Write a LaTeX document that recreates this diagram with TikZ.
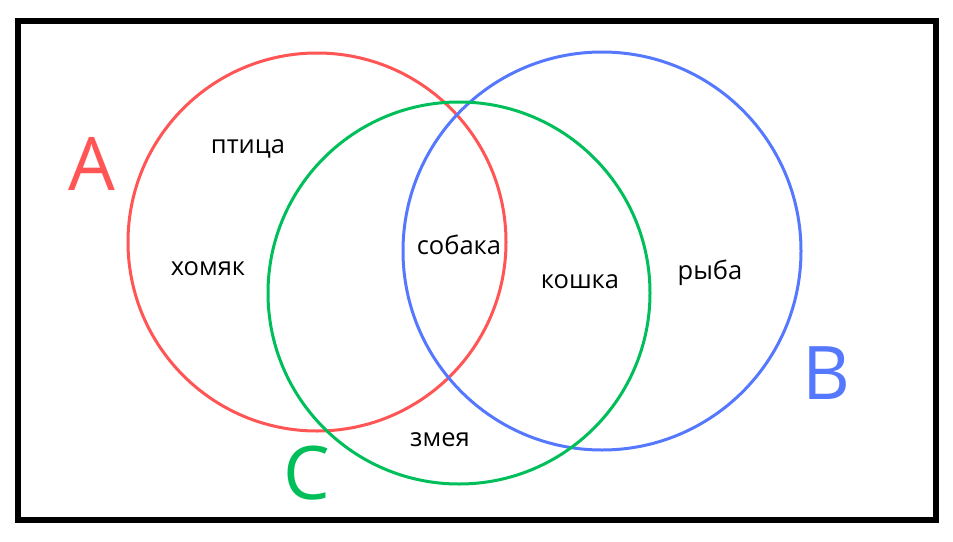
\documentclass[tikz,border=0pt]{standalone}
\usepackage{fontspec}
\setmainfont{Open Sans}
\usetikzlibrary{positioning}

\definecolor{setred}{RGB}{255,85,85}
\definecolor{setblue}{RGB}{85,120,255}
\definecolor{setgreen}{RGB}{0,190,90}

\begin{document}
\begin{tikzpicture}[x=1pt,y=-1pt]

\def\RadiusA{189}
\def\RadiusB{199}
\def\RadiusC{191}

% Styles
\tikzstyle{set} =
	[circle, draw, line width=3pt, inner sep=0pt]

\tikzstyle{item} =
	[font=\fontsize{25.5}{25.5}\selectfont]

\tikzstyle{set name} =
	[font=\fontsize{74}{74}\selectfont]

\useasboundingbox (0,0) rectangle (953,541);

% Universe
\draw[line width=6pt] (18,21) rectangle (936,520);

% Sets
\node (SetA) at (317,242) [set, draw=setred, minimum size=2*\RadiusA] {};
\node (SetB) at (602,251) [set, draw=setblue, minimum size=2*\RadiusB] {};
\node (SetC) at (459,293) [set, draw=setgreen, minimum size=2*\RadiusC] {};

\node (NameA) at (92,164) [set name, text=setred] {A};
\node (NameB) at (826,373) [set name, text=setblue] {B};
\node (NameC) at (307,473) [set name, text=setgreen] {C};

% Elements
\node (Bird) at (248,149) [item] {птица};
\node (Hamster) at (208,269) [item] {хомяк};
\node (Dog) at (459,245) [item] {собака};
\node (Cat) at (580,282) [item] {кошка};
\node (Fish) at (710,273) [item] {рыба};
\node (Snake) at (440,440) [item] {змея};

\end{tikzpicture}
\end{document}
